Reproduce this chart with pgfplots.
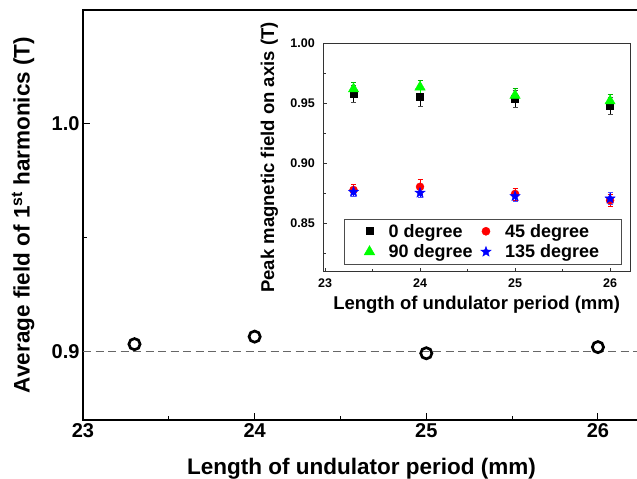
\documentclass[border=0pt]{standalone}
\usepackage{fontspec}
\setmainfont{Liberation Sans}
\usepackage{pgfplots}
\pgfplotsset{compat=1.18}
% filled five-point star mark
\pgfdeclareplotmark{fstar}{%
  \pgfpathmoveto{\pgfpointpolar{90}{\pgfplotmarksize}}%
  \pgfpathlineto{\pgfpointpolar{126}{0.42\pgfplotmarksize}}%
  \pgfpathlineto{\pgfpointpolar{162}{\pgfplotmarksize}}%
  \pgfpathlineto{\pgfpointpolar{198}{0.42\pgfplotmarksize}}%
  \pgfpathlineto{\pgfpointpolar{234}{\pgfplotmarksize}}%
  \pgfpathlineto{\pgfpointpolar{270}{0.42\pgfplotmarksize}}%
  \pgfpathlineto{\pgfpointpolar{306}{\pgfplotmarksize}}%
  \pgfpathlineto{\pgfpointpolar{342}{0.42\pgfplotmarksize}}%
  \pgfpathlineto{\pgfpointpolar{18}{\pgfplotmarksize}}%
  \pgfpathlineto{\pgfpointpolar{54}{0.42\pgfplotmarksize}}%
  \pgfpathclose\pgfusepathqfillstroke}
\begin{document}
\begin{tikzpicture}
\useasboundingbox (0,0) rectangle (637pt,479pt);
% main axis
\begin{axis}[
  at={(83pt,59pt)}, anchor=south west,
  scale only axis, width=557pt, height=410pt,
  xmin=23, xmax=26.245, ymin=0.87, ymax=1.05,
  xtick={23,24,25,26}, minor xtick={23.5,24.5,25.5},
  ytick={0.9,1.0}, minor ytick={0.95},
  tick pos=left,
  tick align=inside, major tick length=7pt, minor tick length=4pt,
  tick style={black, line width=1pt},
  axis line style={line width=1.3pt},
  /pgf/number format/assume math mode=true,
  y tick label style={/pgf/number format/.cd, fixed, fixed zerofill, precision=1},
  tick label style={font=\bfseries\fontsize{20}{24}\selectfont},
  label style={font=\bfseries\fontsize{22.5}{27}\selectfont},
  xlabel={Length of undulator period (mm)},
  ylabel={Average field of 1\textsuperscript{st} harmonics (T)},
  xlabel style={at={(axis description cs:0.5,-0.118)}, anchor=center},
  ylabel style={at={(axis description cs:-0.1077,0.5)}, anchor=center},
  clip=false,
]
\addplot [black!60, line width=1pt, dash pattern=on 8pt off 4.5pt] coordinates {(23,0.9) (26.245,0.9)};
\addplot [only marks, mark=o, mark size=5.6pt, line width=2.7pt, black] coordinates {
  (23.3,0.9033) (24,0.9066) (25,0.8993) (26,0.902)};
\end{axis}
% inset
\begin{axis}[
  at={(323.3pt,207.3pt)}, anchor=south west,
  scale only axis, width=306.7pt, height=228.4pt,
  xmin=22.982, xmax=26.21, ymin=0.81, ymax=1.0,
  xtick={23,24,25,26}, minor xtick={23.5,24.5,25.5},
  ytick={0.85,0.9,0.95,1.0}, minor ytick={0.825,0.875,0.925,0.975},
  tick pos=left,
  tick align=inside, major tick length=4pt, minor tick length=2.5pt,
  tick style={black!80, line width=0.6pt},
  axis line style={black!80, line width=0.8pt},
  /pgf/number format/assume math mode=true,
  y tick label style={xshift=-5pt, /pgf/number format/.cd, fixed, fixed zerofill, precision=2},
  x tick label style={yshift=-4pt},
  tick label style={font=\bfseries\fontsize{12.5}{15}\selectfont},
  label style={font=\bfseries\fontsize{18.5}{22}\selectfont},
  xlabel={Length of undulator period (mm)},
  ylabel={Peak magnetic field on axis (T)},
  xlabel style={at={(axis description cs:0.5,-0.146)}, anchor=center},
  ylabel style={at={(axis description cs:-0.176,0.5)}, anchor=center},
  legend columns=2,
  legend style={at={(0.0675,0.032)}, anchor=south west, draw=black!70, line width=0.6pt,
    font=\bfseries\fontsize{18}{21}\selectfont, inner xsep=20pt, inner ysep=3pt, row sep=2pt,
    /tikz/every odd column/.append style={column sep=12pt},
    /tikz/every even column/.append style={column sep=6pt}},
  legend cell align=left,
  error bars/error bar style={line width=0.5pt},
]
\addplot [only marks, mark=square*, mark size=3.5pt, black,
  error bars/.cd, y dir=both, y explicit, error mark options={rotate=90, mark size=2.5pt, black!70}]
  coordinates {(23.3,0.958) +- (0,0.007) (24,0.9556) +- (0,0.008) (25,0.954) +- (0,0.007) (26,0.948) +- (0,0.007)};
\addlegendentry{0 degree}
\addplot [only marks, mark=*, mark size=4pt, red,
  error bars/.cd, y dir=both, y explicit, error mark options={rotate=90, mark size=2.5pt, red}]
  coordinates {(23.3,0.878) +- (0,0.005) (24,0.8806) +- (0,0.006) (25,0.8747) +- (0,0.005) (26,0.8694) +- (0,0.005)};
\addlegendentry{45 degree}
\addplot [only marks, mark=triangle*, mark size=6pt, color=green,
  error bars/.cd, y dir=both, y explicit, error mark options={rotate=90, mark size=2.5pt, green!70!black}]
  coordinates {(23.3,0.962) +- (0,0.006) (24,0.9636) +- (0,0.006) (25,0.9567) +- (0,0.006) (26,0.952) +- (0,0.006)};
\addlegendentry{90 degree}
\addplot [only marks, mark=fstar, mark size=5.5pt, blue, line width=0.3pt,
  error bars/.cd, y dir=both, y explicit, error mark options={rotate=90, mark size=2.5pt, blue!70}]
  coordinates {(23.3,0.8764) +- (0,0.004) (24,0.8756) +- (0,0.004) (25,0.8728) +- (0,0.004) (26,0.8708) +- (0,0.005)};
\addlegendentry{135 degree}
\end{axis}
\end{tikzpicture}
\end{document}
